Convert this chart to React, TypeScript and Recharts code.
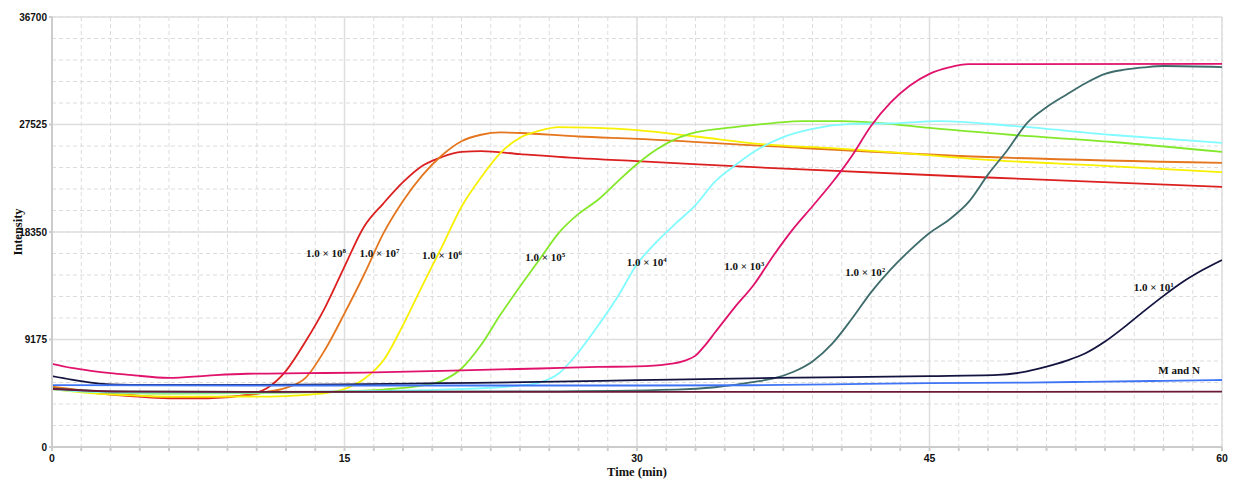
import React from 'react';
import { LineChart, Line, XAxis, YAxis, CartesianGrid, ReferenceDot } from 'recharts';

type Pt = [number, number];

// [time (min), intensity]
const curve1e8: Pt[] = [[0,5050],[2,4650],[4,4350],[6,4150],[8,4150],[10,4450],[11,5000],[12,6500],[13,9000],[14,11900],[15,15400],[16,18800],[17,20800],[18,22600],[19,24000],[20,24750],[21,25180],[22,25250],[24,25000],[27,24650],[30,24400],[37,23800],[48,23000],[60,22200]];
const curve1e7: Pt[] = [[0,5150],[2,4750],[4,4450],[6,4250],[8,4250],[10,4400],[11,4700],[12,5050],[13,5900],[14,8300],[15,11400],[16,14700],[17,18250],[18,21000],[19,23200],[20,24900],[21,26100],[22,26650],[23,26850],[24,26800],[27,26500],[30,26300],[37,25650],[48,24750],[60,24250]];
const curve1e6: Pt[] = [[0,4950],[2,4600],[4,4400],[6,4300],[8,4300],[10,4300],[12,4350],[13,4450],[14,4600],[15,4950],[16,5800],[17,7400],[18,10400],[19,13800],[20,17100],[21,20500],[22,23000],[23,25100],[24,26400],[25,27000],[26,27300],[27.5,27250],[30,27050],[33,26500],[36.7,25800],[40,25500],[43.5,25100],[47.6,24550],[54,24000],[60,23450]];
const curve1e5: Pt[] = [[0,5000],[2,4700],[4,4600],[6,4550],[10,4600],[14,4700],[17,4900],[19,5250],[20,5650],[21,6700],[22,8700],[23,11300],[24,13700],[25,16000],[26,18300],[27,19900],[28,21100],[29,22650],[30,24150],[31,25400],[32,26300],[33,26850],[35,27300],[37,27650],[38.5,27820],[40.5,27820],[42.5,27650],[45,27230],[49.3,26630],[54.4,26030],[60,25180]];
const curve1e4: Pt[] = [[0,4950],[2,4700],[4,4650],[6,4650],[10,4650],[15,4750],[20,4900],[23,5100],[24,5250],[25,5500],[26,6300],[27,8100],[28,10350],[29,12800],[30,15600],[31,17500],[32,19100],[33,20650],[34,22650],[35,24000],[36,25200],[37.5,26450],[39,27150],[41,27570],[43.5,27650],[45.5,27820],[49.3,27400],[54.4,26630],[60,25950]];
const curve1e3: Pt[] = [[0,7100],[1,6750],[2,6500],[3,6300],[4,6150],[6,5900],[8,6100],[10,6250],[13,6300],[16,6350],[20,6500],[25,6700],[28,6830],[30,6880],[31.5,7050],[32.5,7400],[33,7800],[33.5,8700],[34,9770],[35,11900],[36,13870],[37,16350],[38,18600],[39,20550],[40,22550],[41,24800],[42,27400],[43,29400],[44,30850],[45,31850],[46,32400],[47,32680],[60,32700]];
const curve1e2: Pt[] = [[0,5000],[3,4750],[10,4700],[25,4750],[32,4900],[34,5100],[35,5300],[36,5550],[37,5850],[38,6400],[39,7300],[40,8800],[41,10900],[42,13200],[43,15140],[44,16800],[45,18265],[46,19400],[47,20900],[48,23250],[49,25350],[50,27650],[51,29000],[52,30050],[53,31050],[54,31850],[55,32200],[56,32400],[57,32520],[60,32430]];
const curve1e1: Pt[] = [[0,6050],[1,5750],[2,5500],[3,5350],[5,5300],[10,5300],[15,5350],[20,5450],[25,5550],[30,5700],[37,5900],[45,6050],[48.5,6150],[50,6450],[51,6850],[52,7350],[53,8000],[54,9000],[55,10250],[56,11600],[57,12900],[58,14100],[59,15100],[60,15960]];
const curveM: Pt[] = [[0,5280],[10,5250],[20,5250],[30,5250],[36,5270],[40,5350],[45,5450],[50,5500],[53,5560],[57,5650],[60,5720]];
const curveN: Pt[] = [[0,4950],[2,4800],[4,4720],[10,4700],[30,4700],[60,4720]];

const seriesNames = ['1e8', '1e7', '1e6', '1e5', '1e4', '1e3', '1e2', '1e1', 'M', 'N'];
const seriesCurves = [curve1e8, curve1e7, curve1e6, curve1e5, curve1e4, curve1e3, curve1e2, curve1e1, curveM, curveN];
const seriesColors = ['#dc2020', '#e5761e', '#f7f000', '#84e82a', '#80fbff', '#e0126c', '#3e6b6b', '#141441', '#3f74f5', '#6a1838'];

const labelTimes = [14.05, 16.8, 20.0, 25.3, 30.5, 35.5, 41.7, 56.5, 57.8];
const labelValues = [16558, 16558, 16390, 16216, 15790, 15450, 14936, 13656, 6572];
const labelBases = ['1.0 × 10', '1.0 × 10', '1.0 × 10', '1.0 × 10', '1.0 × 10', '1.0 × 10', '1.0 × 10', '1.0 × 10', 'M and N'];
const labelSups = ['8', '7', '6', '5', '4', '3', '2', '1', ''];

const xMajor = [0, 15, 30, 45, 60];
const xMinor = Array.from({ length: 41 }, (_, i) => i * 1.5);
const yMajor = [0, 9175, 18350, 27525, 36700];
const yMinor = Array.from({ length: 21 }, (_, i) => i * 1835);

const serif = '"Liberation Serif", "Times New Roman", serif';
const sans = '"Liberation Sans", Arial, sans-serif';

const SeriesLabel = (props: any) => {
  const { viewBox, base, sup } = props;
  const cx = viewBox.x + (viewBox.width || 0) / 2;
  const cy = viewBox.y + (viewBox.height || 0) / 2;
  return (
    <text x={cx} y={cy + 4} textAnchor="middle" fontFamily={serif} fontWeight="bold" fontSize={11} fill="#111">
      {base}
      {sup ? <tspan dy={-4} fontSize={7}>{sup}</tspan> : null}
    </text>
  );
};

export default function App() {
  const lines = seriesCurves.map((c) => c.map(([t, v]) => ({ t, v })));
  return (
    <div style={{ width: 1220, height: 472 }}>
      <LineChart width={1220} height={472} margin={{ top: 9, right: 6, bottom: 0, left: 0 }}>
        <CartesianGrid
          verticalValues={xMinor}
          horizontalValues={yMinor}
          stroke="#dcdcdc"
          strokeDasharray="4 3"
          strokeWidth={1}
        />
        <CartesianGrid
          verticalValues={xMajor}
          horizontalValues={yMajor}
          stroke="#dedede"
          strokeWidth={1.5}
        />
        <XAxis
          type="number"
          dataKey="t"
          domain={[0, 60]}
          ticks={xMinor}
          interval={0}
          tickFormatter={(v: number) => (v % 15 === 0 ? String(v) : '')}
          height={33}
          stroke="#cccccc"
          strokeWidth={2}
          tickSize={4}
          tickMargin={4}
          tick={{ fontFamily: sans, fontWeight: 'bold', fontSize: 10.5, fill: '#111' }}
          allowDataOverflow
          label={(p: any) => {
            const vb = p.viewBox;
            return (
              <text x={vb.x + vb.width / 2} y={vb.y + 29} textAnchor="middle" fontFamily={serif} fontWeight="bold" fontSize={12.5} fill="#111">
                Time (min)
              </text>
            );
          }}
        />
        <YAxis
          type="number"
          domain={[0, 36700]}
          ticks={yMajor}
          interval={0}
          width={44}
          stroke="#cccccc"
          strokeWidth={2}
          tickSize={3}
          tickMargin={2}
          tick={{ fontFamily: sans, fontWeight: 'bold', fontSize: 10, fill: '#111' }}
          allowDataOverflow
          label={(p: any) => {
            const vb = p.viewBox;
            const cx = vb.x + 10;
            const cy = vb.y + vb.height / 2;
            return (
              <text x={cx} y={cy} transform={`rotate(-90 ${cx} ${cy})`} textAnchor="middle" dominantBaseline="central" fontFamily={serif} fontWeight="bold" fontSize={12.5} fill="#111">
                Intensity
              </text>
            );
          }}
        />
        {lines.map((d, i) => (
          <Line
            key={seriesNames[i]}
            data={d}
            dataKey="v"
            name={seriesNames[i]}
            type="monotone"
            stroke={seriesColors[i]}
            strokeWidth={1.8}
            dot={false}
            activeDot={false}
            isAnimationActive={false}
          />
        ))}
        {labelTimes.map((t, i) => (
          <ReferenceDot
            key={'lbl' + i}
            x={t}
            y={labelValues[i]}
            r={1}
            fill="none"
            stroke="none"
            ifOverflow="visible"
            label={<SeriesLabel base={labelBases[i]} sup={labelSups[i]} />}
          />
        ))}
      </LineChart>
    </div>
  );
}
